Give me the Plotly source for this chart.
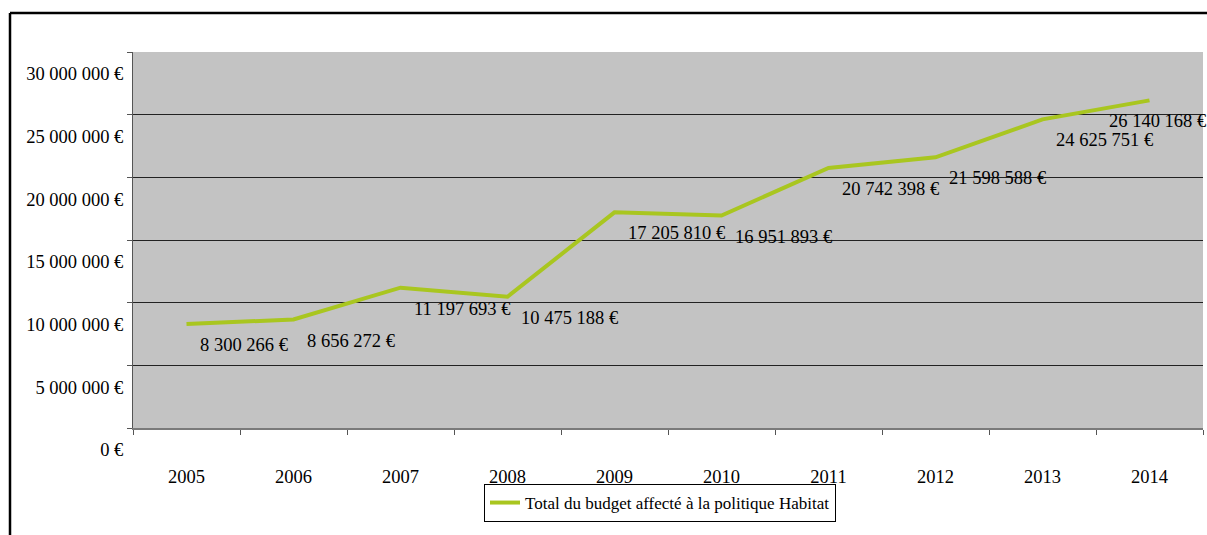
import plotly.graph_objects as go

years = ["2005", "2006", "2007", "2008", "2009", "2010", "2011", "2012", "2013", "2014"]
budget = [8300266, 8656272, 11197693, 10475188, 17205810, 16951893, 20742398, 21598588, 24625751, 26140168]
series_name = "Total du budget affecté à la politique Habitat"
y_ticks = [0, 5000000, 10000000, 15000000, 20000000, 25000000, 30000000]


def euro(v):
    return f"{v:,}".replace(",", " ") + " €"


W, H = 1207, 535
L, R, T, B = 133, 4, 52, 107
pw, ph = W - L - R, H - T - B

FONT = "Liberation Serif, Times New Roman, serif"

fig = go.Figure()
fig.add_trace(go.Scatter(
    x=years, y=budget, mode="lines", name=series_name,
    line=dict(color="#a9c620", width=4),
    hoverinfo="skip",
))

# data labels (x given as category index)
for i, v in enumerate(budget):
    xs = 11
    if i == len(years) - 1:
        xs = -43
    fig.add_annotation(
        x=i, y=v, xref="x", yref="y", text=euro(v), showarrow=False,
        xanchor="left", yanchor="middle", xshift=xs, yshift=-21,
        font=dict(family=FONT, size=18.5, color="black"),
    )

# outer frame (left and top edges visible)
fx0 = (10 - L) / pw
fy0 = (H - B - 13) / ph
fig.add_shape(type="line", xref="paper", yref="paper", x0=fx0, y0=fy0, x1=1.2, y1=fy0,
              line=dict(color="black", width=2.5))
fig.add_shape(type="line", xref="paper", yref="paper", x0=fx0, y0=fy0, x1=fx0, y1=-0.5,
              line=dict(color="black", width=2.5))

fig.update_layout(
    width=W, height=H,
    margin=dict(l=L, r=R, t=T, b=B),
    paper_bgcolor="white",
    plot_bgcolor="#c3c3c3",
    font=dict(family=FONT, size=18.5, color="black"),
    showlegend=True,
    legend=dict(
        x=(484 - L) / pw, y=(H - B - 484) / ph, xanchor="left", yanchor="top",
        bgcolor="white", bordercolor="black", borderwidth=1,
        font=dict(family=FONT, size=17, color="black"),
        itemwidth=30,
    ),
)

fig.update_xaxes(
    type="category", tickson="boundaries",
    showgrid=False, showline=True, linecolor="#7a7a7a", linewidth=2,
    ticks="outside", ticklen=5, tickcolor="#555555",
    ticklabelstandoff=31,
    tickfont=dict(family=FONT, size=18.5, color="black"),
    range=[-0.5, len(years) - 0.5],
)

fig.update_yaxes(
    range=[0, 30000000],
    tickvals=y_ticks, ticktext=[euro(v) for v in y_ticks],
    showgrid=True, gridcolor="#222222", gridwidth=1,
    zeroline=False,
    showline=True, linecolor="#555555", linewidth=1,
    ticks="outside", ticklen=5, tickcolor="#555555",
    ticklabelshift=22, ticklabelstandoff=0,
    tickfont=dict(family=FONT, size=18.5, color="black"),
)

fig.write_html("out.html")
